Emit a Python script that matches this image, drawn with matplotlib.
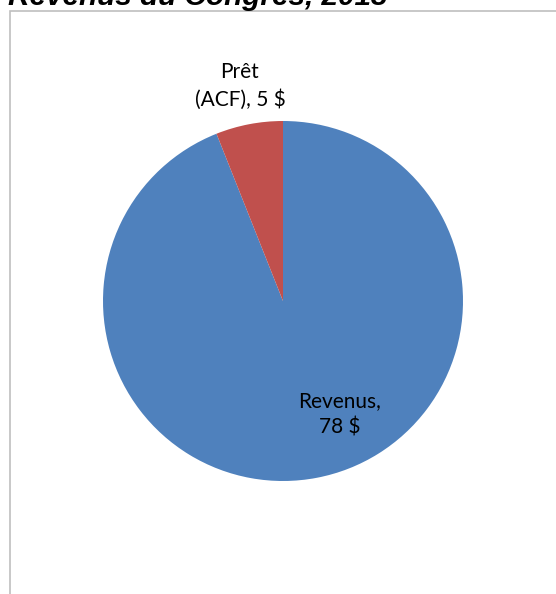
import matplotlib.pyplot as plt
from matplotlib.patches import Rectangle

# Revenue data (in $)
labels = ['Revenus', 'Prêt (ACF)']
values = [78, 5]
label_text = ['Revenus,\n78 $', 'Prêt\n(ACF), 5 $']
colors = ['#4F81BD', '#C0504D']

W, H = 556, 594
fig = plt.figure(figsize=(W / 100, H / 100), dpi=100)

# chart area border (extends past the right and bottom edges)
fig.patches.append(Rectangle((9.5 / W, -0.1), 1.2, 1 - 10.5 / H + 0.1,
                             transform=fig.transFigure, fill=False,
                             edgecolor='#BFBFBF', linewidth=1.2))

# pie: centre (283, 301), radius 180 px
cx, cy, r = 283, 301, 180
ax = fig.add_axes([(cx - r) / W, 1 - (cy + r) / H, 2 * r / W, 2 * r / H])
ax.pie(values, colors=colors, startangle=90, counterclock=False,
       wedgeprops=dict(linewidth=0))
ax.set_aspect('equal')
ax.set_xlim(-1, 1)
ax.set_ylim(-1, 1)
ax.axis('off')

# data labels
fig.text(340 / W, 1 - 414 / H, label_text[0], ha='center', va='center',
         fontsize=15, family='Lato', linespacing=1.42)
fig.text(240 / W, 1 - 86 / H, label_text[1], ha='center', va='center',
         fontsize=15, family='Lato', linespacing=1.42)

# title, cut off at the top of the image
fig.text(8 / W, 1 - 5 / H, 'Revenus du Congrès, 2013', ha='left', va='baseline',
         fontsize=21.4, fontweight='bold', fontstyle='italic', family='Liberation Sans')

fig.savefig('out.png', dpi=100)
